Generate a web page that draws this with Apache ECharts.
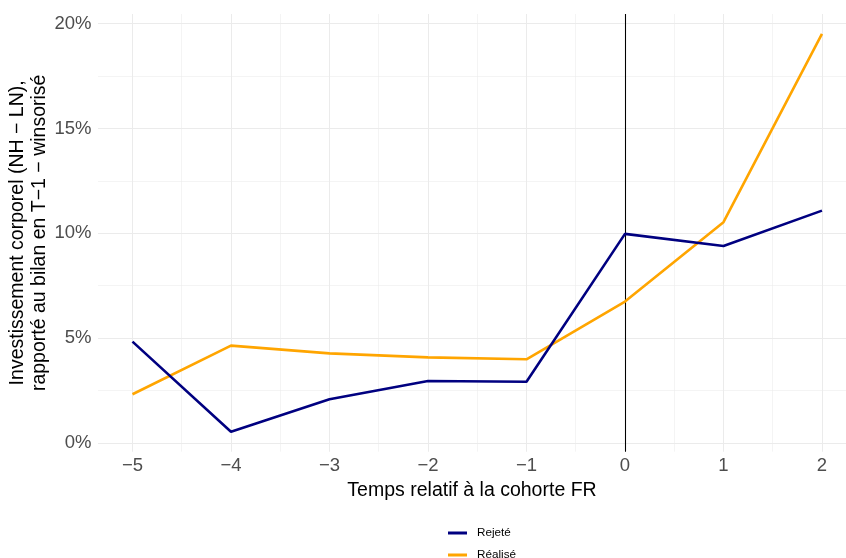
<!DOCTYPE html>
<html>
<head>
<meta charset="utf-8">
<script src="https://cdn.jsdelivr.net/npm/echarts@6/dist/echarts.min.js"></script>
<style>html,body{margin:0;padding:0;background:#fff}#c{width:846px;height:558px}</style>
</head>
<body>
<div id="c"></div>
<script>
const years = [-5, -4, -3, -2, -1, 0, 1, 2];
const rejete = [4.83, 0.53, 2.08, 2.95, 2.92, 9.97, 9.39, 11.08];
const realise = [2.32, 4.64, 4.27, 4.08, 3.99, 6.74, 10.53, 19.51];
const yTicks = [0, 5, 10, 15, 20];
const yMinor = [2.5, 7.5, 12.5, 17.5];
const xTicks = [-5, -4, -3, -2, -1, 0, 1, 2];
const xMinor = [-4.5, -3.5, -2.5, -1.5, -0.5, 0.5, 1.5];

const gridColor = '#EBEBEB';
const gridLines = [];
yTicks.forEach(v => gridLines.push({yAxis: v, lineStyle: {color: gridColor, width: 1.07, type: 'solid'}}));
yMinor.forEach(v => gridLines.push({yAxis: v, lineStyle: {color: gridColor, width: 0.55, type: 'solid'}}));
xTicks.forEach(v => gridLines.push({xAxis: v, lineStyle: {color: gridColor, width: 1.07, type: 'solid'}}));
xMinor.forEach(v => gridLines.push({xAxis: v, lineStyle: {color: gridColor, width: 0.55, type: 'solid'}}));

const legendCommon = {
  orient: 'horizontal', left: 448, icon: 'rect', itemWidth: 19, itemHeight: 3,
  textStyle: {fontSize: 11.7, color: '#000', padding: [0, 0, 0, 5]}, padding: 0
};

const chart = echarts.init(document.getElementById('c'), null, {renderer: 'canvas'});
chart.setOption({
  animation: false,
  backgroundColor: '#ffffff',
  textStyle: {fontFamily: 'Liberation Sans, Arial, sans-serif'},
  grid: {left: 98, top: 14, width: 748, height: 437.7, containLabel: false, outerBoundsMode: 'none'},
  xAxis: {
    type: 'value', min: -5.35, max: 2.244,
    axisLine: {show: false}, axisTick: {show: false}, splitLine: {show: false},
    axisLabel: {customValues: xTicks, color: '#4D4D4D', fontSize: 18.5, margin: 5,
      formatter: v => (v < 0 ? '\u2212' + Math.abs(v) : '' + v)},
    name: 'Temps relatif à la cohorte FR', nameLocation: 'middle', nameGap: 28,
    nameTextStyle: {color: '#000', fontSize: 19.5}
  },
  yAxis: {
    type: 'value', min: -0.42, max: 20.46,
    axisLine: {show: false}, axisTick: {show: false}, splitLine: {show: false},
    axisLabel: {customValues: yTicks, color: '#4D4D4D', fontSize: 18.5, margin: 6.5,
      formatter: v => v + '%'},
    name: 'Investissement corporel (NH \u2212 LN),\nrapporté au bilan en T\u22121 \u2212 winsorisé',
    nameLocation: 'middle', nameRotate: 90, nameGap: 47, nameMoveOverlap: false,
    nameTextStyle: {color: '#000', fontSize: 19.5, lineHeight: 22}
  },
  legend: [
    Object.assign({data: ['Rejeté'], top: 527}, legendCommon),
    Object.assign({data: ['Réalisé'], top: 549}, legendCommon)
  ],
  series: [
    {
      name: 'grid', type: 'line', data: [], z: 0, silent: true,
      markLine: {silent: true, symbol: 'none', z: 0, label: {show: false}, animation: false, data: gridLines}
    },
    {
      name: 'vline', type: 'line', data: [], z: 1, silent: true,
      markLine: {silent: true, symbol: 'none', z: 1, label: {show: false}, animation: false,
        data: [{xAxis: 0, lineStyle: {color: '#000', width: 1.07, type: 'solid'}}]}
    },
    {
      name: 'Rejeté', type: 'line', z: 3, showSymbol: false,
      data: years.map((x, i) => [x, rejete[i]]),
      lineStyle: {color: '#000080', width: 2.6}, itemStyle: {color: '#000080'}
    },
    {
      name: 'Réalisé', type: 'line', z: 2, showSymbol: false,
      data: years.map((x, i) => [x, realise[i]]),
      lineStyle: {color: '#FFA500', width: 2.6}, itemStyle: {color: '#FFA500'}
    }
  ]
});
</script>
</body>
</html>
